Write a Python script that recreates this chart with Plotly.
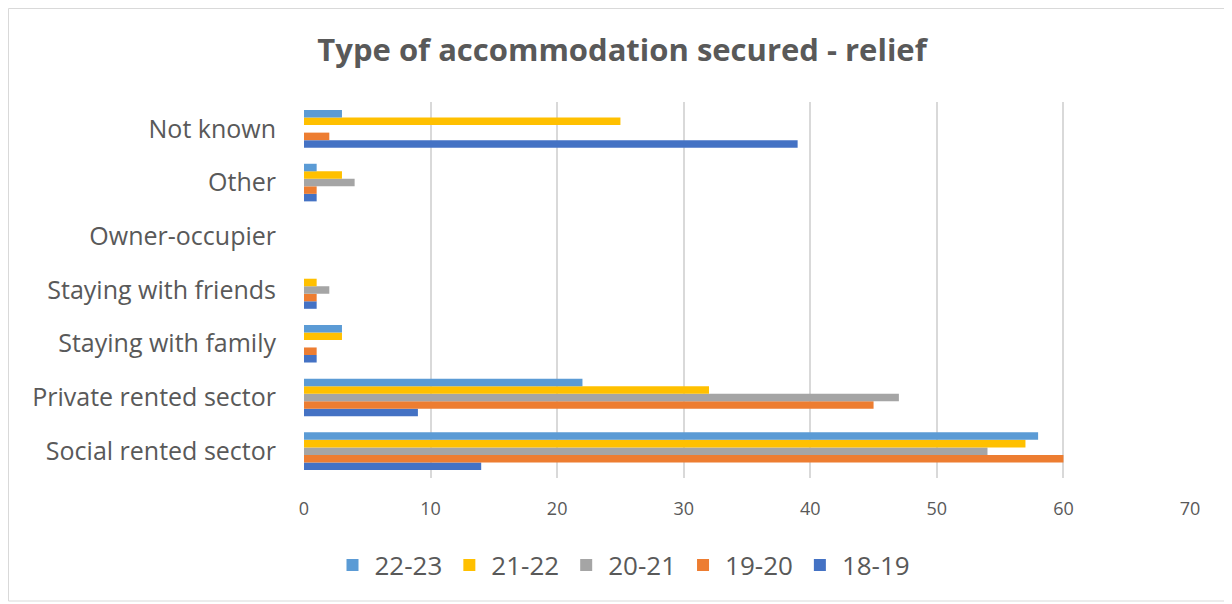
"""Horizontal grouped bar chart: type of accommodation secured - relief"""
import plotly.graph_objects as go

categories = [
    'Social rented sector',
    'Private rented sector',
    'Staying with family',
    'Staying with friends',
    'Owner-occupier',
    'Other',
    'Not known',
]

# values per year, in the same order as categories (bottom to top)
v_18_19 = [14, 9, 1, 1, 0, 1, 39]
v_19_20 = [60, 45, 1, 1, 0, 1, 2]
v_20_21 = [54, 47, 0, 2, 0, 4, 0]
v_21_22 = [57, 32, 3, 1, 0, 3, 25]
v_22_23 = [58, 22, 3, 0, 0, 1, 3]

series = [
    ('18-19', v_18_19, '#4472C4'),
    ('19-20', v_19_20, '#ED7D31'),
    ('20-21', v_20_21, '#A5A5A5'),
    ('21-22', v_21_22, '#FFC000'),
    ('22-23', v_22_23, '#5B9BD5'),
]

fig = go.Figure()
for name, vals, color in series:
    fig.add_trace(go.Bar(
        y=categories,
        x=vals,
        name=name,
        orientation='h',
        marker=dict(color=color, line=dict(width=0)),
    ))

# the page puts an 8px body margin around the figure
W, H = 1224, 596
L, R, T, B = 296, 42, 94, 126
pw, ph = W - L - R, H - T - B

fig.update_layout(
    width=W,
    height=H,
    barmode='group',
    bargap=0.3,
    bargroupgap=0,
    template='plotly_white',
    plot_bgcolor='white',
    paper_bgcolor='white',
    margin=dict(l=L, r=R, t=T, b=B),
    font=dict(family='Open Sans, Arial, sans-serif', color='#595959'),
    title=dict(
        text='<b>Type of accommodation secured - relief</b>',
        x=(622 - 8) / W,
        xanchor='center',
        y=1 - 42 / H,
        yanchor='middle',
        font=dict(size=31, color='#595959'),
    ),
    legend=dict(
        orientation='h',
        traceorder='reversed',
        x=(623 - 8 - L) / pw,
        xanchor='center',
        y=-(557 - (T + ph)) / ph,
        yanchor='middle',
        font=dict(size=26, color='#595959'),
        itemwidth=34,
    ),
    xaxis=dict(
        range=[0, 70],
        dtick=10,
        showgrid=True,
        gridcolor='#D9D9D9',
        gridwidth=1.5,
        zeroline=False,
        showline=False,
        ticks='',
        ticklabelstandoff=18,
        tickfont=dict(size=18, color='#595959'),
    ),
    yaxis=dict(
        categoryorder='array',
        categoryarray=categories,
        showgrid=False,
        ticks='',
        ticklabelstandoff=27,
        tickfont=dict(size=25, color='#595959'),
    ),
)

# thin outline around the chart, as in the source image
fig.add_shape(
    type='rect',
    xref='paper', yref='paper',
    x0=(0.5 - L) / pw, x1=(1222 - L) / pw,
    y0=-(593 - (T + ph)) / ph, y1=1 + (T - 0.5) / ph,
    line=dict(color='#D9D9D9', width=1),
    layer='below',
)

fig.write_html("out.html")
